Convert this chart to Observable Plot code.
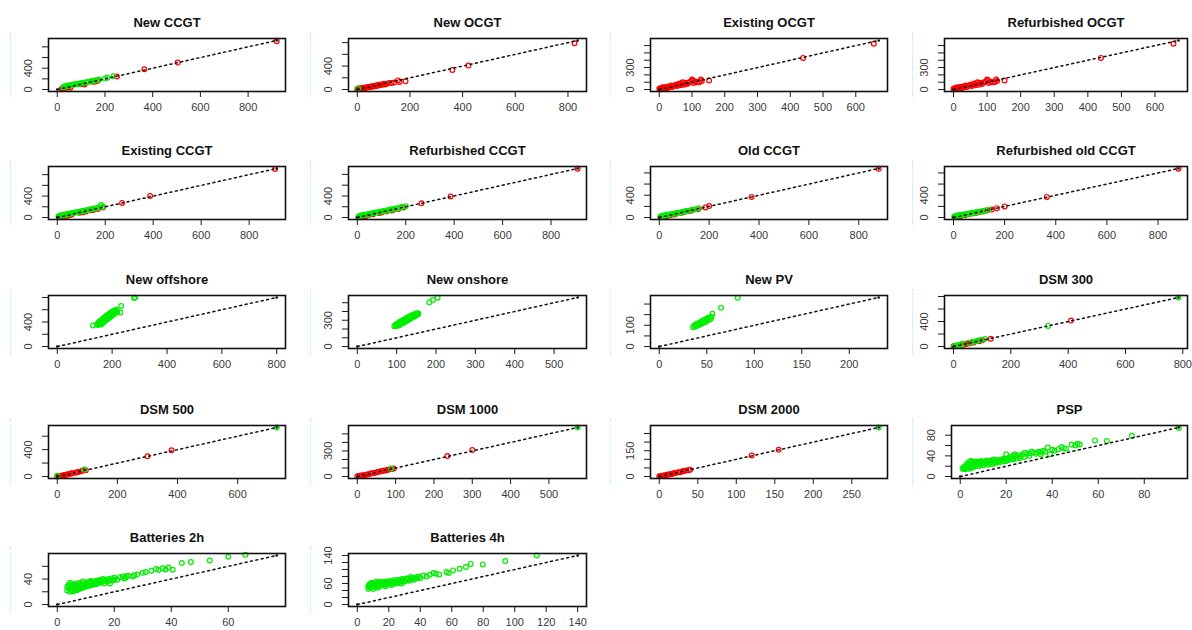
<!DOCTYPE html>
<html><head><meta charset="utf-8">
<script src="https://cdn.jsdelivr.net/npm/d3@7"></script>
<script src="https://cdn.jsdelivr.net/npm/@observablehq/plot@0.6"></script>
<style>
body{margin:0;background:#fff;}
#chart{position:relative;width:1192px;height:630px;background:#fff;overflow:hidden;font-family:"Liberation Sans",Arial,sans-serif;}
.cyan{position:absolute;border-left:1px dotted #a8f0f8;width:0;}
</style></head><body><div id="chart"></div>
<script>
const titles = ["New CCGT","New OCGT","Existing OCGT","Refurbished OCGT","Existing CCGT","Refurbished CCGT","Old CCGT","Refurbished old CCGT","New offshore","New onshore","New PV","DSM 300","DSM 500","DSM 1000","DSM 2000","PSP","Batteries 2h","Batteries 4h"];
const ranges = [[0,920],[0,837],[0,670],[0,670],[0,915],[0,910],[0,880],[0,880],[0,800],[0,560],[0,231],[0,785],[0,730],[0,575],[0,285],[0,95],[0,77],[0,140]];
const t800 = [0,200,400,600,800], t600 = [0,100,200,300,400,500,600], t500 = [0,100,200,300,400,500];
const xTickValues = [t800,t800,t600,t600,t800,t800,t800,t800,t800,t500,[0,50,100,150,200],t800,[0,200,400,600],t500,[0,50,100,150,200,250],[0,20,40,60,80],[0,20,40,60],[0,20,40,60,80,100,120,140]];
const yTickValues = [t800,t800,t600,t600,t800,t800,t800,t800,t800,t500,[0,50,100,150,200],t800,[0,200,400,600],t500,[0,50,100,150,200,250],[0,20,40,60,80],[0,20,40,60],[0,20,40,60,80,100,120,140]];
const yTickLabels = [[0,400],[0,400],[0,300],[0,300],[0,400],[0,400],[0,400],[0,400],[0,400],[0,300],[0,100],[0,400],[0,400],[0,300],[0,150],[0,40,80],[0,40],[0,60,140]];

const newCCGTRed = [[18,8],[22,22],[30,15],[45,40],[50,55],[55,35],[100,100],[110,110],[115,95],[150,145],[160,150],[170,165],[250,245],[365,380],[505,505],[920,905]];
const newCCGTGreen = [[25,45],[30,55],[35,62],[40,70],[45,72],[50,80],[55,78],[60,85],[65,90],[70,95],[75,98],[80,105],[85,100],[90,110],[95,115],[100,118],[105,122],[110,125],[120,135],[125,130],[130,145],[140,150],[145,160],[150,158],[160,175],[170,180],[175,190],[200,205],[210,220],[235,250]];
const newOCGTRed = [[0,8],[3,12],[5,5],[8,18],[10,10],[12,20],[15,15],[18,25],[20,22],[25,28],[28,20],[30,35],[35,30],[40,42],[45,38],[50,52],[55,45],[60,60],[65,55],[70,68],[75,62],[80,80],[85,72],[90,88],[95,80],[100,100],[105,85],[110,95],[120,110],[130,112],[140,120],[154,156],[160,130],[183,140],[361,335],[422,408],[825,790]];
const newOCGTGreen = [[3,20]];
const existingOCGTRed = [[0,10],[3,18],[5,5],[8,25],[10,15],[12,32],[15,20],[18,12],[20,30],[22,36],[25,22],[28,40],[30,28],[35,45],[37,55],[40,35],[45,50],[50,60],[52,68],[55,48],[60,70],[62,82],[65,58],[70,90],[72,100],[75,65],[80,85],[82,91],[85,75],[90,95],[95,105],[100,136],[102,123],[105,90],[110,110],[115,100],[122,100],[127,136],[130,115],[152,123],[439,432],[655,625]];
const existingOCGTGreen = [];
const refurbOCGTRed = [[0,10],[3,18],[5,5],[8,25],[10,15],[12,32],[15,20],[18,12],[20,30],[22,36],[25,22],[28,40],[30,28],[35,45],[37,55],[40,35],[45,50],[50,60],[52,68],[55,48],[60,70],[62,82],[65,58],[70,90],[72,100],[75,65],[80,85],[82,91],[85,75],[90,95],[95,105],[100,136],[102,123],[105,90],[110,110],[115,100],[122,100],[127,136],[130,115],[152,123],[439,432],[655,625]];
const refurbOCGTGreen = [];
const existingCCGTRed = [[8,5],[15,20],[24,18],[40,30],[51,45],[60,55],[93,90],[107,100],[120,112],[141,135],[150,140],[169,160],[190,185],[270,270],[387,400],[908,905]];
const existingCCGTGreen = [[5,25],[10,35],[15,40],[20,45],[24,50],[30,52],[35,58],[40,62],[44,68],[50,70],[55,75],[60,82],[65,85],[72,92],[78,95],[85,100],[90,108],[100,118],[105,120],[112,128],[120,135],[128,142],[135,150],[140,155],[150,165],[155,170],[165,178],[175,190],[183,235],[190,200]];
const refurbCCGTRed = [[5,5],[15,10],[25,25],[35,30],[50,50],[65,60],[90,85],[100,95],[120,110],[140,130],[150,145],[170,160],[190,185],[265,265],[385,390],[910,905]];
const refurbCCGTGreen = [[5,20],[10,30],[15,38],[20,42],[25,48],[30,50],[38,55],[45,62],[50,68],[58,75],[65,80],[70,88],[78,92],[85,100],[92,105],[100,112],[108,120],[115,128],[122,132],[130,140],[138,148],[145,155],[155,162],[165,172],[175,180],[185,195],[200,210]];
const oldCCGTRed = [[5,5],[15,12],[30,25],[45,40],[60,55],[70,72],[90,85],[100,100],[120,115],[130,125],[155,150],[185,180],[200,205],[370,370],[880,875]];
const oldCCGTGreen = [[5,20],[10,28],[15,32],[20,38],[25,42],[30,48],[35,50],[40,55],[48,60],[55,68],[62,72],[70,80],[78,85],[85,92],[92,98],[100,108],[108,115],[115,120],[125,130],[135,140],[145,150],[160,165]];
const refurbOldCCGTRed = [[5,8],[15,15],[30,28],[45,42],[60,58],[75,72],[90,88],[100,98],[115,110],[130,128],[150,145],[170,168],[200,200],[365,370],[880,875]];
const refurbOldCCGTGreen = [[3,18],[8,25],[12,30],[18,35],[22,40],[28,45],[33,48],[40,52],[45,58],[52,62],[60,70],[65,75],[72,80],[80,88],[88,95],[95,100],[105,110],[115,118],[125,128],[140,140]];
const offshoreRed = [];
const offshoreGreen = [[130,341],[145,360],[148,380],[150,350],[152,395],[155,370],[155,410],[158,385],[160,360],[160,425],[162,400],[164,380],[165,445],[166,415],[168,395],[170,430],[170,470],[172,410],[174,450],[175,425],[176,485],[178,440],[180,465],[180,505],[182,445],[184,480],[185,520],[186,460],[188,495],[190,470],[190,535],[192,510],[194,485],[195,550],[196,525],[198,500],[200,565],[200,540],[202,515],[204,555],[205,580],[207,530],[208,560],[210,590],[212,550],[214,575],[216,600],[218,565],[230,555],[233,661],[280,790],[284,798]];
const onshoreRed = [];
const onshoreGreen = [[94,231],[97,245],[99,235],[100,258],[102,248],[104,270],[105,240],[107,262],[108,282],[110,255],[111,275],[113,292],[114,265],[116,285],[117,305],[119,275],[120,298],[122,315],[123,288],[125,308],[126,328],[128,300],[130,320],[131,340],[133,312],[135,332],[136,352],[138,325],[140,345],[141,362],[143,338],[145,358],[147,372],[148,350],[150,368],[152,380],[153,362],[155,378],[183,504],[192,530],[204,556]];
const pvRed = [];
const pvGreen = [[35.5,91],[37,100],[38,94],[39,106],[40,98],[41,110],[42,103],[43,114],[44,106],[45,118],[45,110],[46,122],[47,113],[48,126],[49,117],[50,130],[50,121],[51,134],[52,125],[53,137],[54,130],[55,140],[56,154],[65,183],[82.6,230]];
const dsm300Red = [[0,5],[10,10],[20,18],[35,30],[42,40],[48,45],[55,55],[60,60],[70,65],[90,85],[100,100],[130,125],[410,415]];
const dsm300Green = [[2,10],[8,15],[15,25],[25,30],[30,40],[52,62],[65,72],[75,80],[85,95],[95,105],[110,120],[330,330],[785,785]];
const dsm500Red = [[0,2],[5,8],[10,10],[15,12],[20,20],[25,22],[30,28],[35,35],[40,38],[45,45],[50,48],[60,58],[65,65],[70,68],[80,78],[85,88],[95,95],[300,300],[380,390]];
const dsm500Green = [[0,10],[90,105],[730,730]];
const dsm1000Red = [[0,2],[5,5],[10,12],[15,15],[20,18],[25,25],[30,28],[35,35],[40,40],[45,42],[50,50],[55,55],[60,58],[65,65],[70,70],[75,72],[80,80],[85,85],[90,88],[95,95],[235,240],[300,310]];
const dsm1000Green = [[88,95],[575,575]];
const dsm2000Red = [[0,1],[2,3],[4,5],[6,6],[8,8],[10,10],[12,12],[14,14],[16,15],[18,18],[20,20],[22,22],[25,25],[28,27],[30,30],[32,32],[35,35],[38,37],[40,40],[120,122],[155,155]];
const dsm2000Green = [[285,285]];
const pspRed = [];
const pspGreen = [[1,15],[1.5,18],[2,20],[2,14],[2.5,17],[3,22],[3,25],[3,16],[3.5,19],[4,28],[4,23],[4,15],[4.5,30],[4.5,18],[5,21],[5,26],[5,17],[5.5,29],[5.5,22],[6,24],[6,19],[6.5,27],[7,22],[7,29],[7.5,26],[8,25],[8,20],[8.5,28],[9,24],[9,30],[9.5,27],[10,26],[10,22],[10.5,29],[11,25],[11.5,31],[12,27],[12,23],[12.5,30],[13,26],[13.5,31],[14,28],[14,24],[14.5,33],[15,30],[15,26],[15.5,27],[16,32],[16.5,29],[17,31],[17,27],[18,33],[18.5,30],[19,35],[19,29],[20,34],[20,43],[20,30],[21,36],[21,32],[22,38],[22.5,35],[23,40],[23,33],[23.7,43],[24,38],[24.5,35],[25,41],[26,39],[26,36],[27,42],[28,46],[28,38],[29,44],[30,45],[30,40],[31,48],[32,46],[33,44],[34,48],[35,47],[35,43],[36,50],[37,48],[38,56],[39,43],[40,52],[41,50],[42.6,53],[44,57],[45,55],[46,54],[48.4,62],[50,60],[51,63.5],[52,62],[58.6,70],[63.7,68.6],[74.6,79],[95,94]];
const batt2Red = [];
const batt2Green = [[3.5,22],[3.5,28],[4,25],[4,31],[4.5,20],[4.5,34],[4.5,26],[5,23],[5,28],[5,31],[5.5,26],[5.5,32],[5.5,21],[6,22],[6,29],[6,25],[6.5,25],[6.5,33],[6.5,28],[7,27],[7,30],[7,23],[7.5,24],[7.5,32],[8,28],[8,34],[8,25],[8.5,26],[8.5,31],[9,30],[9,36],[9,27],[9.5,27],[9.5,33],[10,32],[10,29],[10.5,29],[10.5,35],[11,34],[11,30],[11.5,30],[11.5,36],[12,33],[12,37],[12.5,31],[12.5,35],[13,35],[13,32],[13.5,32],[13.5,37],[14,36],[14,33],[14.5,34],[14.5,38],[15,38],[15,35],[15.5,35],[16,37],[16,40],[16.5,33],[16.5,38],[17,39],[17.5,36],[18,40],[18,37],[18.5,33],[19,41],[19.5,38],[20,42],[20,39],[21,39],[22,43],[23,44],[23.5,41],[24,42],[24.2,44.7],[25,45],[26.5,44],[27,46],[28,47],[30,50],[31,51],[33,53],[34.7,55.8],[35.5,54],[37,57],[38,55],[39,58],[40.5,54.7],[43.7,65],[46.9,66.8],[53.5,69],[60,75],[66,78]];
const batt4Red = [];
const batt4Green = [[7,45],[7,52],[7.5,56],[8,58],[8,48],[8.5,53],[9,62],[9,50],[9.5,57],[10,55],[10,44],[10,60],[11,60],[11,50],[11.5,55],[12,65],[12,53],[12.5,59],[13,57],[13,48],[13.5,62],[14,62],[14,52],[14.5,57],[15,58],[15,66],[15.5,62],[16,54],[16,61],[16.5,58],[17,57],[17,64],[17.5,60],[18,52],[18,60],[18.5,65],[19,63],[19.5,58],[20,58],[20,67],[20.5,62],[21,61],[22,65],[22,56],[22.5,60],[23,69],[23.5,64],[24,62],[25,66],[25,60],[25.5,70],[26,70],[26.5,65],[27,64],[28,68],[28,60],[28.5,73],[29,72],[29.5,66],[30,66],[31,70],[31.5,74],[32,74],[33,68],[33.5,72],[34,72],[34,78.5],[35,75],[36,71],[37,77],[38,74],[39,80],[40,76],[42,83],[44,80],[46,85],[48.4,90],[50,88],[52,86],[56.6,93],[58,90],[60.8,97.4],[65,102],[69,107],[72,116],[79.7,114.5],[94,124],[114,140]];

const redSeries = [newCCGTRed,newOCGTRed,existingOCGTRed,refurbOCGTRed,existingCCGTRed,refurbCCGTRed,oldCCGTRed,refurbOldCCGTRed,offshoreRed,onshoreRed,pvRed,dsm300Red,dsm500Red,dsm1000Red,dsm2000Red,pspRed,batt2Red,batt4Red];
const greenSeries = [newCCGTGreen,newOCGTGreen,existingOCGTGreen,refurbOCGTGreen,existingCCGTGreen,refurbCCGTGreen,oldCCGTGreen,refurbOldCCGTGreen,offshoreGreen,onshoreGreen,pvGreen,dsm300Green,dsm500Green,dsm1000Green,dsm2000Green,pspGreen,batt2Green,batt4Green];

// layout
const boxLeft = [48,348,650,944], boxRight = [285,586,887,1187];
const boxTop = [38,166,295,425,553], boxH = 53;
const cyanX = [10,310,610,912];
const mL = 56, mR = 10, mT = 40, mB = 34;
const chart = document.getElementById("chart");

for (let i = 0; i < titles.length; i++) {
  const c = i % 4, r = Math.floor(i / 4);
  const left = (i === 15) ? 951 : boxLeft[c];
  const [lo, hi] = ranges[i];
  const pad = (hi - lo) * 0.04;
  const dom = [lo - pad, hi + pad];
  const diag = [[lo, lo], [hi, hi]];
  const w = boxRight[c] - left + mL + mR, h = boxH + mT + mB;
  const svg = Plot.plot({
    width: w, height: h,
    marginLeft: mL, marginRight: mR, marginTop: mT, marginBottom: mB,
    x: {domain: dom},
    y: {domain: dom},
    style: {fontFamily: '"Liberation Sans", Arial, sans-serif', fontSize: "11px", color: "#1a1a1a", background: "transparent", overflow: "visible"},
    marks: [
      Plot.axisX({ticks: xTickValues[i], tickSize: 6, tickPadding: 6, fontSize: 11, label: null, fill: "#3a3a3a"}),
      Plot.axisY({ticks: yTickValues[i], tickSize: 6, text: null, label: null}),
      Plot.axisY({ticks: yTickLabels[i], tickSize: 0, tickRotate: -90, tickPadding: 17, fontSize: 11, label: null, fill: "#3a3a3a"}),
      Plot.dot(redSeries[i], {x: d => d[0], y: d => d[1], r: 2.4, stroke: "#ff0000", strokeWidth: 1.2, fill: "none"}),
      Plot.dot(greenSeries[i], {x: d => d[0], y: d => d[1], r: 2.4, stroke: "#00ee00", strokeWidth: 1.2, fill: "none"}),
      Plot.line(diag, {x: d => d[0], y: d => d[1], stroke: "#111", strokeWidth: 1.5, strokeDasharray: "2,3.5"}),
      Plot.dot(diag, {x: d => d[0], y: d => d[1], r: 1.3, fill: "#111"}),
      Plot.frame({stroke: "#111", strokeWidth: 1.6}),
      Plot.text([titles[i]], {text: d => d, frameAnchor: "top", dy: -21, fontWeight: "bold", fontSize: 13, fill: "#111"})
    ]
  });
  svg.style.position = "absolute";
  svg.style.left = (left - mL) + "px";
  svg.style.top = (boxTop[r] - mT) + "px";
  chart.appendChild(svg);
  const cy = document.createElement("div");
  cy.className = "cyan";
  cy.style.left = cyanX[c] + "px";
  cy.style.top = (boxTop[r] - 6) + "px";
  cy.style.height = "66px";
  chart.appendChild(cy);
}
</script></body></html>
